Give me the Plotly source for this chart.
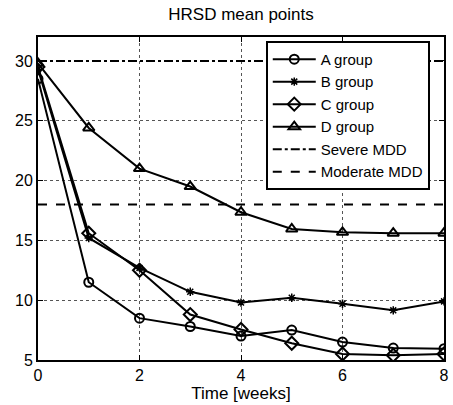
import plotly.graph_objects as go

weeks = [0, 1, 2, 3, 4, 5, 6, 7, 8]
a_group = [28.5, 11.5, 8.5, 7.8, 7.0, 7.5, 6.5, 6.0, 5.95]
b_group = [29.3, 15.2, 12.7, 10.7, 9.8, 10.2, 9.7, 9.15, 9.9]
c_group = [29.5, 15.6, 12.5, 8.8, 7.55, 6.4, 5.5, 5.4, 5.5]
d_group = [29.8, 24.4, 21.0, 19.5, 17.35, 15.95, 15.67, 15.6, 15.6]
severe_mdd = 30
moderate_mdd = 18
x_ticks = [0, 2, 4, 6, 8]
y_ticks = [5, 10, 15, 20, 25, 30]

fig = go.Figure()
series = [
    ("A group", a_group, "circle-open", 9, 2),
    ("B group", b_group, "asterisk-open", 7, 1.5),
    ("C group", c_group, "diamond-open", 10, 2),
    ("D group", d_group, "triangle-up-open", 10, 2),
]
for name, vals, sym, sz, lw in series:
    fig.add_trace(go.Scatter(
        x=weeks, y=vals, name=name, mode="lines+markers",
        line=dict(color="black", width=2),
        marker=dict(symbol=sym, size=sz, color="black", line=dict(width=lw, color="black")),
    ))

fig.add_trace(go.Scatter(
    x=[weeks[0], weeks[-1]], y=[severe_mdd, severe_mdd], name="Severe MDD", mode="lines",
    line=dict(color="black", width=2, dash="dashdot"),
))
fig.add_trace(go.Scatter(
    x=[weeks[0], weeks[-1]], y=[moderate_mdd, moderate_mdd], name="Moderate MDD", mode="lines",
    line=dict(color="black", width=2, dash="dash"),
))

fam = "Liberation Sans, Arial, sans-serif"
fig.update_layout(
    width=453, height=405,
    margin=dict(l=38, r=4, t=37, b=45),
    paper_bgcolor="white", plot_bgcolor="white",
    font=dict(family=fam, size=16, color="black"),
    title=dict(text="HRSD mean points", x=0.5, xref="paper", xanchor="center",
               y=1, yref="container", yanchor="top", pad=dict(t=8),
               font=dict(size=17, family=fam, color="black")),
    legend=dict(x=0.561, y=0.988, xanchor="left", yanchor="top",
                bordercolor="black", borderwidth=2, bgcolor="white",
                font=dict(size=15, family=fam, color="black"),
                tracegroupgap=0, itemwidth=43),
    showlegend=True,
)
fig.update_xaxes(
    range=[0, 8], tickvals=x_ticks, ticks="inside", ticklen=5, tickcolor="black",
    showline=True, linecolor="black", linewidth=2, mirror="ticks",
    showgrid=True, gridcolor="#555555", griddash="dot", gridwidth=1,
    zeroline=False, title=dict(text="Time [weeks]", standoff=0, font=dict(size=17)),
)
fig.update_yaxes(
    range=[5, 32], tickvals=y_ticks, ticks="inside", ticklen=5, tickcolor="black",
    showline=True, linecolor="black", linewidth=2, mirror="ticks",
    showgrid=True, gridcolor="#555555", griddash="dot", gridwidth=1,
    zeroline=False,
)

fig.write_html("out.html")
